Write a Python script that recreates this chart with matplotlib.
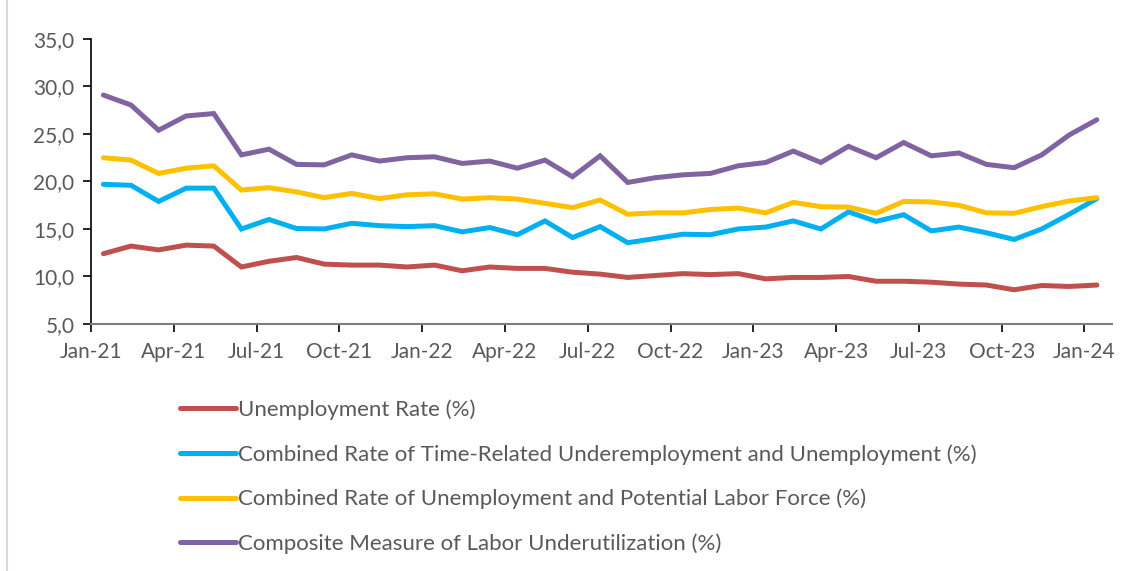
import matplotlib
matplotlib.use("Agg")
import matplotlib.pyplot as plt
from matplotlib.lines import Line2D
import numpy as np

# Monthly series, Jan-21 .. Jan-24
months = ["Jan-21", "Feb-21", "Mar-21", "Apr-21", "May-21", "Jun-21", "Jul-21", "Aug-21",
          "Sep-21", "Oct-21", "Nov-21", "Dec-21", "Jan-22", "Feb-22", "Mar-22", "Apr-22",
          "May-22", "Jun-22", "Jul-22", "Aug-22", "Sep-22", "Oct-22", "Nov-22", "Dec-22",
          "Jan-23", "Feb-23", "Mar-23", "Apr-23", "May-23", "Jun-23", "Jul-23", "Aug-23",
          "Sep-23", "Oct-23", "Nov-23", "Dec-23", "Jan-24"]

unemployment = [12.4, 13.2, 12.8, 13.3, 13.2, 11.0, 11.6, 12.0, 11.3, 11.2, 11.2, 11.0,
                11.2, 10.6, 11.0, 10.85, 10.85, 10.45, 10.25, 9.9, 10.1, 10.3, 10.2, 10.3,
                9.75, 9.9, 9.9, 10.0, 9.5, 9.5, 9.4, 9.2, 9.1, 8.6, 9.05, 8.95, 9.1]

time_related = [19.7, 19.6, 17.9, 19.3, 19.3, 15.0, 16.0, 15.05, 15.0, 15.6, 15.35, 15.25,
                15.35, 14.7, 15.15, 14.4, 15.85, 14.1, 15.25, 13.55, 14.0, 14.45, 14.4, 15.0,
                15.2, 15.85, 15.0, 16.8, 15.8, 16.5, 14.8, 15.2, 14.6, 13.9, 15.0, 16.55, 18.2]

potential_lf = [22.5, 22.25, 20.85, 21.4, 21.65, 19.1, 19.35, 18.9, 18.3, 18.75, 18.2, 18.6,
                18.7, 18.15, 18.3, 18.15, 17.7, 17.25, 18.05, 16.55, 16.7, 16.7, 17.05, 17.2,
                16.7, 17.8, 17.35, 17.3, 16.65, 17.9, 17.85, 17.5, 16.7, 16.65, 17.35, 17.95, 18.3]

composite = [29.1, 28.05, 25.4, 26.9, 27.15, 22.8, 23.4, 21.8, 21.75, 22.8, 22.15, 22.5,
             22.6, 21.9, 22.15, 21.4, 22.25, 20.5, 22.7, 19.9, 20.4, 20.7, 20.85, 21.65,
             22.0, 23.2, 22.0, 23.7, 22.5, 24.1, 22.7, 23.0, 21.8, 21.45, 22.8, 24.9, 26.5]

series_labels = ["Unemployment Rate (%)",
                 "Combined Rate of Time-Related Underemployment and Unemployment (%)",
                 "Combined Rate of Unemployment and Potential Labor Force (%)",
                 "Composite Measure of Labor Underutilization (%)"]
colors = ["#C0504D", "#00B0F0", "#FFC000", "#8064A2"]

y_ticks = [5, 10, 15, 20, 25, 30, 35]
y_tick_labels = ["5,0", "10,0", "15,0", "20,0", "25,0", "30,0", "35,0"]

plt.rcParams["font.family"] = ["Lato", "DejaVu Sans"]

fig = plt.figure(figsize=(11.33, 5.71), dpi=100)
ax = fig.add_axes([0.0803, 0.4326, 0.9012, 0.4991])

x = np.arange(len(months)) + 0.45
handles = []
for vals, col, lab in zip([unemployment, time_related, potential_lf, composite], colors, series_labels):
    h, = ax.plot(x, vals, color=col, lw=3.6, solid_capstyle="round", solid_joinstyle="miter", label=lab)
    handles.append(h)

ax.set_xlim(0, 37)
ax.set_ylim(5, 35)
ax.set_yticks(y_ticks)
ax.set_yticklabels(y_tick_labels)
tick_pos = list(range(0, 37, 3))
ax.set_xticks(tick_pos)
ax.set_xticklabels([months[i] for i in tick_pos])

ax.tick_params(axis="both", direction="out", length=6, width=1.2, color="black",
               labelsize=15, labelcolor="#595959")
ax.tick_params(axis="y", pad=6)
ax.tick_params(axis="x", pad=7)
ax.spines["top"].set_visible(False)
ax.spines["right"].set_visible(False)
ax.spines["left"].set_color("black")
ax.spines["left"].set_linewidth(1.2)
ax.spines["bottom"].set_color("#7f7f7f")
ax.spines["bottom"].set_linewidth(1.5)

fig.legend(handles=handles, loc="upper left", bbox_to_anchor=(180 / 1133, 1 - 399.5 / 571),
           frameon=False, fontsize=16, handlelength=2.5, handletextpad=0.1,
           labelspacing=1.08, borderpad=0, borderaxespad=0, labelcolor="#595959")

# light grey chart border on the left edge
fig.add_artist(Line2D([7 / 1133, 7 / 1133], [0, 1], color="#d9d9d9", lw=1.5, transform=fig.transFigure))

fig.savefig("out.png", dpi=100)
